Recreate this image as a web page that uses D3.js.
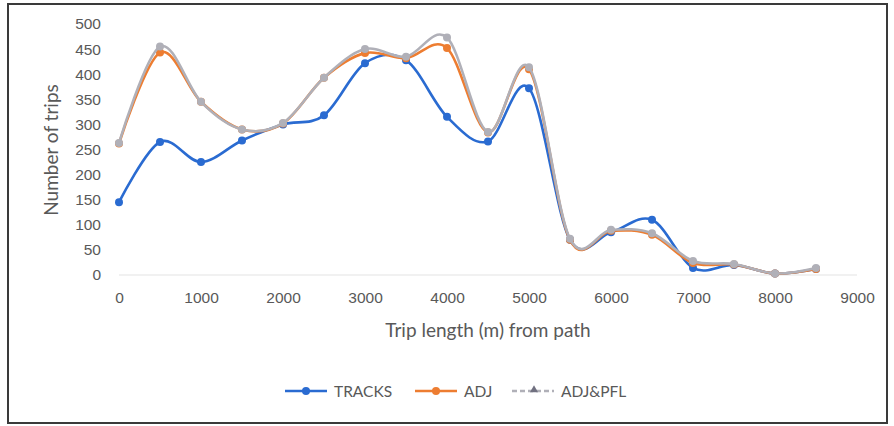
<!DOCTYPE html>
<html><head><meta charset="utf-8">
<script src="https://cdn.jsdelivr.net/npm/d3@7"></script>
<style>body{margin:0;background:#fff;} svg{display:block;font-family:Lato,"Open Sans",sans-serif;}</style>
</head><body>
<svg id="c" width="894" height="426"></svg>
<script>
const distances = [0,500,1000,1500,2000,2500,3000,3500,4000,4500,5000,5500,6000,6500,7000,7500,8000,8500];
const tracks = [145,265,225,268,300,318,422,428,315,266,372,70,85,110,14,20,3,12];
const adj    = [262,443,345,290,302,393,442,432,452,284,410,70,88,80,24,21,3,12];
const adjPfl = [263,455,345,290,303,393,450,435,473,285,414,72,90,83,28,22,3,14];
const xTicks = [0,1000,2000,3000,4000,5000,6000,7000,8000,9000];
const yTicks = [0,50,100,150,200,250,300,350,400,450,500];
const seriesNames = ["TRACKS","ADJ","ADJ&PFL"];
const seriesColors = ["#2a6bd1","#ed7d31","#b0b0b8"];

const svg = d3.select("#c");
svg.append("rect").attr("x",8).attr("y",4).attr("width",879).attr("height",419)
  .attr("fill","none").attr("stroke","#3a3a3a").attr("stroke-width",2);

const x = d3.scaleLinear().domain([0,9000]).range([119,857]);
const y = d3.scaleLinear().domain([0,500]).range([275,24]);

svg.append("line").attr("x1",x(0)).attr("x2",x(9000)).attr("y1",y(0)).attr("y2",y(0))
  .attr("stroke","#e3e3e3").attr("stroke-width",1);

const gy = svg.append("g").attr("transform",`translate(${x(0)-18},0)`)
  .call(d3.axisLeft(y).tickValues(yTicks).tickSize(0).tickPadding(0));
gy.select(".domain").remove();
gy.selectAll("text").attr("fill","#595959").style("font-size","15.5px");

const gx = svg.append("g").attr("transform",`translate(0,${y(0)+17})`)
  .call(d3.axisBottom(x).tickValues(xTicks).tickSize(0).tickPadding(0).tickFormat(d3.format("d")));
gx.select(".domain").remove();
gx.selectAll("text").attr("fill","#595959").style("font-size","15.5px");

svg.append("text").attr("transform","translate(58,150) rotate(-90)").attr("text-anchor","middle")
  .attr("fill","#595959").style("font-size","19px").text("Number of trips");
svg.append("text").attr("x",488).attr("y",337).attr("text-anchor","middle")
  .attr("fill","#595959").style("font-size","19px").text("Trip length (m) from path");

const all = [tracks, adj, adjPfl];
const line = d3.line().x((d,i)=>x(distances[i])).y(d=>y(d)).curve(d3.curveCardinal.tension(0));
all.forEach((vals,k)=>{
  svg.append("path").datum(vals).attr("d",line).attr("fill","none")
    .attr("stroke",seriesColors[k]).attr("stroke-width",2.6).attr("stroke-linejoin","round");
  svg.selectAll(null).data(vals).enter().append("circle")
    .attr("cx",(d,i)=>x(distances[i])).attr("cy",d=>y(d)).attr("r",4)
    .attr("fill",seriesColors[k]);
});

// legend
const legX = [285,415,512];
const legG = svg.append("g");
seriesNames.forEach((n,k)=>{
  const lx = legX[k], ly = 391;
  legG.append("line").attr("x1",lx).attr("x2",lx+42).attr("y1",ly).attr("y2",ly)
    .attr("stroke",seriesColors[k]).attr("stroke-width",2.6)
    .attr("stroke-dasharray", k===2 ? "5,3" : null);
  if(k<2){
    legG.append("circle").attr("cx",lx+21).attr("cy",ly).attr("r",4).attr("fill",seriesColors[k]);
  } else {
    legG.append("path").attr("d",d3.symbol(d3.symbolTriangle,28)()).attr("transform",`translate(${lx+22},${ly-1})`)
      .attr("fill","#707080");
  }
  legG.append("text").attr("x",lx+49).attr("y",ly+6).attr("fill","#595959")
    .style("font-size","15.5px").text(n);
});
</script>
</body></html>
